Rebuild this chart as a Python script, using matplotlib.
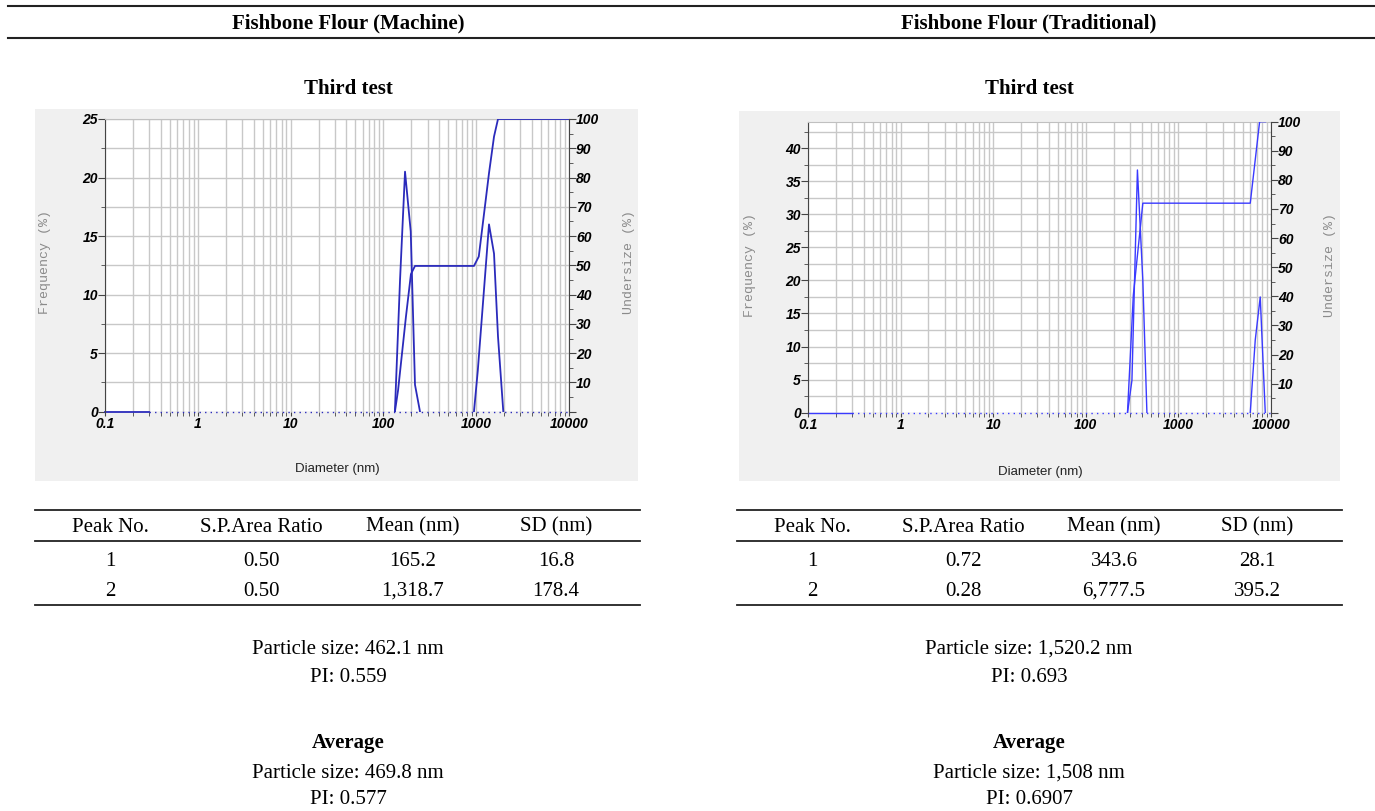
"""Particle size distribution panels: fishbone flour, machine vs traditional."""
import matplotlib

matplotlib.use("Agg")
import matplotlib.pyplot as plt  # noqa: E402
from matplotlib.lines import Line2D  # noqa: E402
from matplotlib.patches import Rectangle  # noqa: E402
from matplotlib.ticker import FixedLocator, NullFormatter  # noqa: E402

W, H = 1375, 811

headers = ["Fishbone Flour (Machine)", "Fishbone Flour (Traditional)"]
test_title = "Third test"

x_ticks = [0.1, 1, 10, 100, 1000, 10000]
x_ticklabels = ["0.1", "1", "10", "100", "1000", "10000"]
baseline_solid_d = [0.1, 0.3]
baseline_dotted_d = [0.3, 10000]

# machine: frequency (%) peaks and cumulative undersize (%)
m_peak1_d = [133, 151, 171, 197, 219, 248]
m_peak1_f = [0, 11.2, 20.5, 15.4, 2.3, 0]
m_peak2_d = [946, 1040, 1374, 1556, 1718, 1959]
m_peak2_f = [0, 3.5, 16.0, 13.5, 6.4, 0]
m_cum_d = [133, 144, 175, 198, 219, 946, 1066, 1374, 1556, 1718, 10000]
m_cum_v = [0, 7.4, 32.5, 47, 49.8, 49.8, 53, 81.5, 94, 100, 100]
m_yticks = [0, 5, 10, 15, 20, 25]

# traditional
t_peak1_d = [282, 315, 361, 413, 457]
t_peak1_f = [0, 4.9, 36.7, 20.0, 0]
t_peak2_d = [5970, 6760, 7650, 8670]
t_peak2_f = [0, 11, 17.5, 0]
t_cum_d = [282, 326, 413, 5970, 7534, 8700]
t_cum_v = [0, 40.4, 72, 72, 100, 100]
t_yticks = [0, 5, 10, 15, 20, 25, 30, 35, 40]

right_ticks = [0, 10, 20, 30, 40, 50, 60, 70, 80, 90, 100]

table_cols = ["Peak No.", "S.P.Area Ratio", "Mean (nm)", "SD (nm)"]
m_rows = [["1", "0.50", "165.2", "16.8"], ["2", "0.50", "1,318.7", "178.4"]]
t_rows = [["1", "0.72", "343.6", "28.1"], ["2", "0.28", "6,777.5", "395.2"]]

m_summary = ["Particle size: 462.1 nm", "PI: 0.559"]
t_summary = ["Particle size: 1,520.2 nm", "PI: 0.693"]
m_average = ["Particle size: 469.8 nm", "PI: 0.577"]
t_average = ["Particle size: 1,508 nm", "PI: 0.6907"]

SERIF = "Liberation Serif"
SANS = "Liberation Sans"
MONO = "Liberation Mono"
FS = 15
TICKFONT = dict(family=SANS, weight="bold", style="italic", size=10)


def fx(x):
    return x / W


def fy(y):
    return 1 - y / H


def rect(x0, y0, x1, y1):
    return [fx(x0), fy(y1), (x1 - x0) / W, (y1 - y0) / H]


def hline(fig, x0, x1, y, lw=1.3):
    fig.add_artist(Line2D([fx(x0), fx(x1)], [fy(y), fy(y)], transform=fig.transFigure,
                          color="#222222", lw=lw))


def chart(fig, plot_px, panel_px, ymax, yticks, peaks, cum, color, lw, labels_px):
    fig.add_artist(Rectangle((fx(panel_px[0]), fy(panel_px[3])),
                             (panel_px[2] - panel_px[0]) / W, (panel_px[3] - panel_px[1]) / H,
                             transform=fig.transFigure, facecolor="#f0f0f0", edgecolor="none",
                             zorder=0))
    ax = fig.add_axes(rect(*plot_px))
    ax.set_facecolor("white")
    ax.set_xscale("log")
    ax.set_xlim(0.1, 10000)
    ax.set_ylim(0, ymax)
    ax.set_xticks(x_ticks)
    ax.set_xticklabels(x_ticklabels, **TICKFONT)
    ax.xaxis.set_minor_formatter(NullFormatter())
    ax.set_yticks(yticks)
    ax.set_yticklabels([str(v) for v in yticks], **TICKFONT)
    ax.yaxis.set_minor_locator(FixedLocator([v + 2.5 for v in yticks]))
    ax.grid(True, which="both", color="#c8c8c8", lw=1.0)
    ax.set_axisbelow(True)
    ax.tick_params(axis="x", which="both", direction="out", length=3, color="#444444", pad=1)
    ax.tick_params(axis="y", which="major", direction="out", length=5, color="#444444", pad=0)
    ax.tick_params(axis="y", which="minor", direction="out", length=3, color="#444444")
    for s in ("bottom", "right"):
        ax.spines[s].set_visible(False)
    ax.spines["left"].set_color("#444444")
    ax.spines["top"].set_color("#c0c0c0")

    ax.plot(baseline_dotted_d, [0, 0], color=color, lw=1.0, ls=(0, (1, 3)), clip_on=False)
    ax.plot(baseline_solid_d, [0, 0], color=color, lw=lw, clip_on=False)
    for d, f in peaks:
        ax.plot(d, f, color=color, lw=lw)

    ax2 = ax.twinx()
    ax2.set_ylim(0, 100)
    ax2.set_yticks(right_ticks)
    ax2.set_yticklabels([""] + [str(v) for v in right_ticks[1:]], **TICKFONT)
    ax2.yaxis.set_minor_locator(FixedLocator([v + 5 for v in right_ticks[:-1]]))
    ax2.tick_params(axis="y", which="major", direction="out", length=5, color="#444444", pad=0)
    ax2.tick_params(axis="y", which="minor", direction="out", length=3, color="#444444")
    for s in ("top", "bottom", "left"):
        ax2.spines[s].set_visible(False)
    ax2.spines["right"].set_color("#444444")
    ax2.plot(cum[0], cum[1], color=color, lw=lw)

    (fxl, fyl), (uxl, uyl), (dxl, dyl) = labels_px
    fig.text(fx(fxl), fy(fyl), "Frequency (%)", rotation=90, ha="center", va="center",
             family=MONO, size=9.5, color="#8a8a8a")
    fig.text(fx(uxl), fy(uyl), "Undersize (%)", rotation=90, ha="center", va="center",
             family=MONO, size=9.5, color="#8a8a8a")
    fig.text(fx(dxl), fy(dyl), "Diameter (nm)", ha="center", va="center",
             family=SANS, size=9.5, color="#222222")


def table(fig, x0, x1, col_x, rows):
    hline(fig, x0, x1, 510)
    hline(fig, x0, x1, 541)
    hline(fig, x0, x1, 605)
    for cx, name in zip(col_x, table_cols):
        fig.text(fx(cx), fy(527), name, ha="center", va="center", family=SERIF, size=FS)
    for ry, row in zip((562, 591), rows):
        for cx, val in zip(col_x, row):
            fig.text(fx(cx), fy(ry), val, ha="center", va="center", family=SERIF, size=FS)


def main() -> None:
    fig = plt.figure(figsize=(W / 100, H / 100), dpi=100)
    fig.patch.set_facecolor("white")

    hline(fig, 8, 1375, 6, lw=1.5)
    hline(fig, 8, 1375, 38, lw=1.5)
    for cx, name in zip((348, 1029), headers):
        fig.text(fx(cx), fy(23), name, ha="center", va="center", family=SERIF,
                 weight="bold", size=FS)
        fig.text(fx(cx), fy(89), test_title, ha="center", va="center", family=SERIF,
                 weight="bold", size=FS)

    chart(fig, (105, 119, 569, 411.7), (35, 109, 638, 481), 25, m_yticks,
          [(m_peak1_d, m_peak1_f), (m_peak2_d, m_peak2_f)], (m_cum_d, m_cum_v),
          "#2b2bbb", 1.3, ((45, 262), (629, 262), (337, 469)))
    chart(fig, (808, 121.7, 1271, 412.7), (739, 111, 1340, 481), 44, t_yticks,
          [(t_peak1_d, t_peak1_f), (t_peak2_d, t_peak2_f)], (t_cum_d, t_cum_v),
          "#3a3aff", 1.0, ((750, 265), (1330, 265), (1040, 472)))

    table(fig, 35, 640, (110, 261, 413, 556), m_rows)
    table(fig, 737, 1342, (812, 963, 1114, 1257), t_rows)

    for cx, summ, avg in ((348, m_summary, m_average), (1029, t_summary, t_average)):
        fig.text(fx(cx), fy(649), summ[0], ha="center", va="center", family=SERIF, size=FS)
        fig.text(fx(cx), fy(677), summ[1], ha="center", va="center", family=SERIF, size=FS)
        fig.text(fx(cx), fy(743), "Average", ha="center", va="center", family=SERIF,
                 weight="bold", size=FS)
        fig.text(fx(cx), fy(773), avg[0], ha="center", va="center", family=SERIF, size=FS)
        fig.text(fx(cx), fy(800), avg[1], ha="center", va="center", family=SERIF, size=FS)

    fig.savefig("out.png", dpi=100)


if __name__ == "__main__":
    main()
